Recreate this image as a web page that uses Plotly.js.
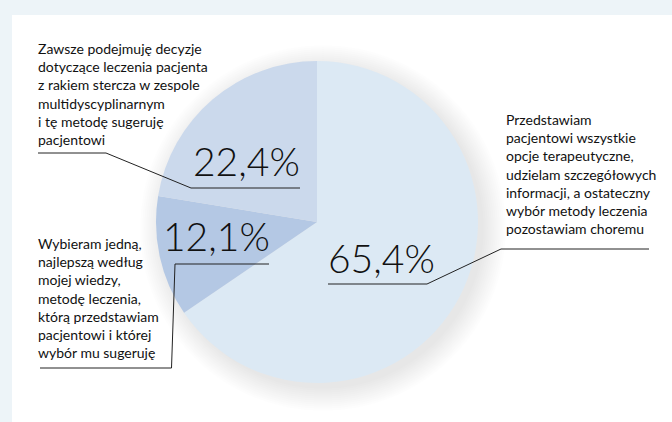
<!DOCTYPE html>
<html>
<head>
<meta charset="utf-8">
<script src="https://cdn.plot.ly/plotly-3.0.1.min.js"></script>
<style>html,body{margin:0;padding:0;background:#edf4f8;}#chart{width:672px;height:422px;}</style>
</head>
<body>
<div id="chart"></div>
<script>
// Data
const categories = [
  "Przedstawiam<br>pacjentowi wszystkie<br>opcje terapeutyczne,<br>udzielam szczegółowych<br>informacji, a ostateczny<br>wybór metody leczenia<br>pozostawiam choremu",
  "Wybieram jedną,<br>najlepszą według<br>mojej wiedzy,<br>metodę leczenia,<br>którą przedstawiam<br>pacjentowi i której<br>wybór mu sugeruję",
  "Zawsze podejmuję decyzje<br>dotyczące leczenia pacjenta<br>z rakiem stercza w zespole<br>multidyscyplinarnym<br>i tę metodę sugeruję<br>pacjentowi"
];
const values = [65.4, 12.1, 22.4];
const valueLabels = ["65,4%", "12,1%", "22,4%"];
const colors = ["#dce9f4", "#b4c8e4", "#cbd9ec"];

const W = 672, H = 422;
const px = x => x / W;
const py = y => 1 - y / H;
const cx = 317, cy = 222, r = 161;
function dom(cxp, cyp, rr) {
  return {x: [px(cxp - rr), px(cxp + rr)], y: [py(cyp + rr), py(cyp - rr)]};
}

const traces = [];
// soft shadow layers (largest first)
for (let d = 22; d >= 0; d -= 2) {
  traces.push({
    type: 'pie', values: [1], labels: ['s'], sort: false,
    domain: dom(cx + 6, cy + 6, r + d),
    marker: {colors: ['rgba(0,0,0,0.007)'], line: {width: 0}},
    textinfo: 'none', hoverinfo: 'skip', showlegend: false
  });
}
traces.push({
  type: 'pie', values: values, labels: valueLabels, sort: false,
  direction: 'clockwise', rotation: 0,
  domain: dom(cx, cy, r),
  marker: {colors: colors, line: {width: 0}},
  textinfo: 'none', hoverinfo: 'label', showlegend: false
});

const labFont = {family: 'Lato, "Open Sans", sans-serif', size: 14, color: '#111'};
const pctFont = {family: 'Lato, "Open Sans", sans-serif', size: 39, color: '#111', weight: 300};

const annotations = [
  {text: categories[2], x: px(37), y: py(93.5), xanchor: 'left', yanchor: 'middle', align: 'left', font: labFont},
  {text: categories[1], x: px(37), y: py(297.5), xanchor: 'left', yanchor: 'middle', align: 'left', font: labFont},
  {text: categories[0], x: px(505), y: py(174), xanchor: 'left', yanchor: 'middle', align: 'left', font: labFont},
  {text: valueLabels[2], x: px(301), y: py(161), xanchor: 'right', yanchor: 'middle', font: pctFont},
  {text: valueLabels[1], x: px(271), y: py(236), xanchor: 'right', yanchor: 'middle', font: pctFont},
  {text: valueLabels[0], x: px(327), y: py(258), xanchor: 'left', yanchor: 'middle', font: pctFont}
].map(a => Object.assign({xref: 'paper', yref: 'paper', showarrow: false, borderpad: 0}, a));

function poly(pts) {
  const out = [];
  for (let i = 0; i < pts.length - 1; i++) {
    out.push({type: 'line', xref: 'paper', yref: 'paper',
      x0: px(pts[i][0]), y0: py(pts[i][1]), x1: px(pts[i + 1][0]), y1: py(pts[i + 1][1]),
      line: {color: '#222', width: 1}});
  }
  return out;
}

const shapes = [
  {type: 'rect', xref: 'paper', yref: 'paper', x0: px(12), x1: 1, y0: 0, y1: py(15),
   fillcolor: '#ffffff', line: {width: 0}, layer: 'below'}
].concat(
  poly([[38, 153], [106, 153], [191, 188], [300, 188]]),
  poly([[40, 368], [171.5, 368], [175, 264], [269, 264]]),
  poly([[328, 284], [427, 284], [501, 249], [649, 249]])
);

Plotly.newPlot('chart', traces, {
  width: W, height: H,
  margin: {l: 0, r: 0, t: 0, b: 0},
  paper_bgcolor: '#edf4f8',
  plot_bgcolor: 'rgba(0,0,0,0)',
  showlegend: false,
  annotations: annotations,
  shapes: shapes
}, {displayModeBar: false, staticPlot: true});
</script>
</body>
</html>
